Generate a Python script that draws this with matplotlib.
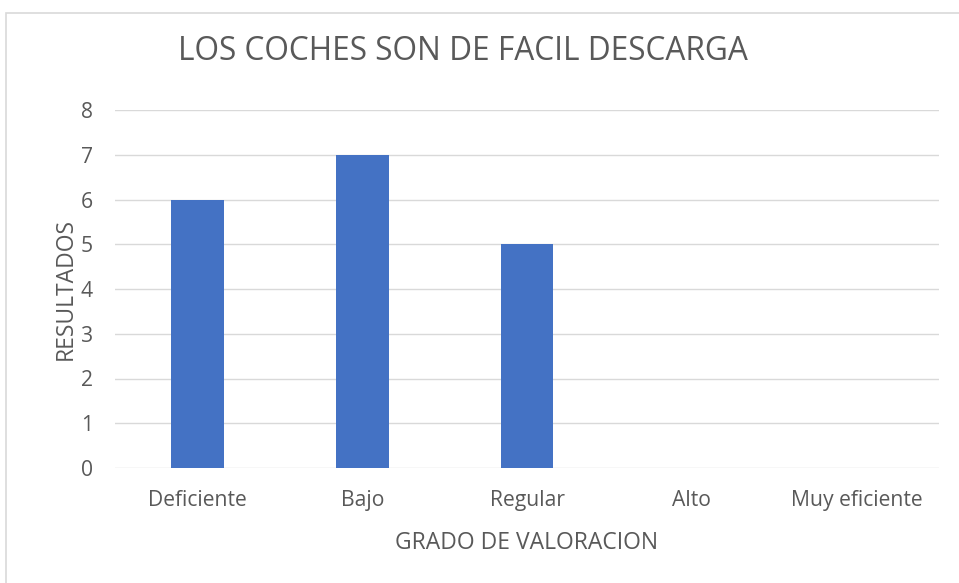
import numpy as np
import matplotlib.pyplot as plt
from matplotlib.patches import Rectangle

# Data
categorias = ["Deficiente", "Bajo", "Regular", "Alto", "Muy eficiente"]
resultados = [6, 7, 5, 0, 0]
yticks = [0, 1, 2, 3, 4, 5, 6, 7, 8]

plt.rcParams['font.family'] = ['Open Sans', 'DejaVu Sans']
gris = '#595959'

fig = plt.figure(figsize=(9.59, 5.83), dpi=100)
ax = fig.add_axes([115 / 959, 1 - 468 / 583, 824 / 959, 358 / 583])

x = np.arange(len(categorias))
ax.bar(x, resultados, width=0.32, color='#4472c4', zorder=3)

ax.set_xlim(-0.5, len(categorias) - 0.5)
ax.set_ylim(0, 8)
ax.set_yticks(yticks)
ax.set_xticks(x)
ax.set_xticklabels(categorias)
ax.tick_params(axis='both', length=0, colors=gris, labelsize=15.2)
ax.tick_params(axis='y', pad=16)
ax.tick_params(axis='x', pad=16)
ax.grid(axis='y', color='#d9d9d9', linewidth=1, zorder=0)
for s in ax.spines.values():
    s.set_visible(False)

ax.set_xlabel('GRADO DE VALORACION', color=gris, fontsize=16.5, labelpad=14)
ax.set_ylabel('RESULTADOS', color=gris, fontsize=16.5, labelpad=2)
fig.text(463 / 959, 1 - 52 / 583, 'LOS COCHES SON DE FACIL DESCARGA',
         ha='center', va='center', color=gris, fontsize=22.8)

# chart border
fig.patches.append(Rectangle((6 / 959, -0.1), 1.1, 1 - 13 / 583 + 0.1,
                             transform=fig.transFigure, fill=False,
                             edgecolor='#d9d9d9', linewidth=1.2))

fig.savefig('out.png', dpi=100)
